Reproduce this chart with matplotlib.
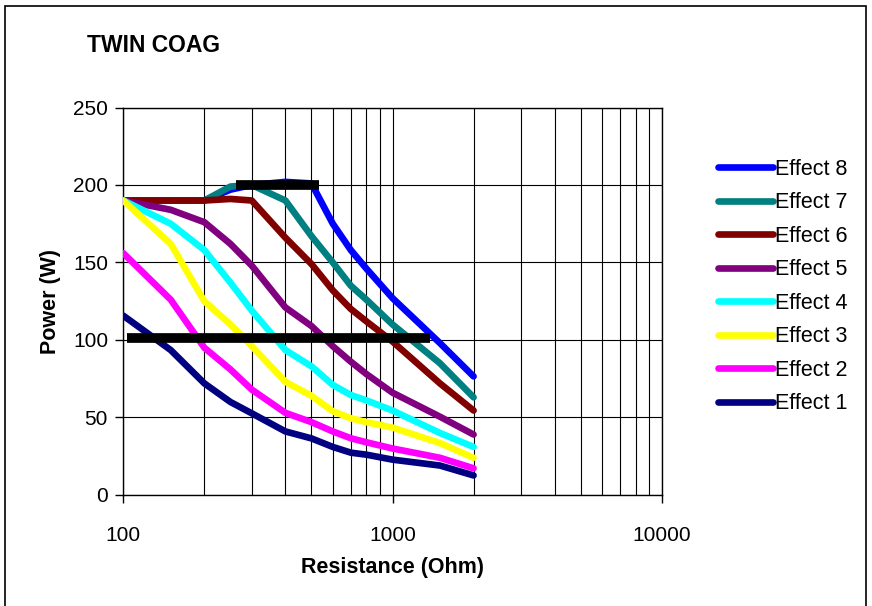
import matplotlib.pyplot as plt
from matplotlib.patches import Rectangle
from matplotlib.ticker import FixedLocator, FixedFormatter, NullFormatter

plt.rcParams['font.family'] = ['Liberation Sans', 'DejaVu Sans']
plt.rcParams['font.size'] = 15

resistance = [100, 150, 200, 250, 300, 400, 500, 600, 700, 800, 1000, 1500, 2000]

# power (W) per effect setting
effect8 = [190, 190, 190, 197, 200, 202, 201, 175, 158, 146, 127, 98, 76.5]
effect7 = [190, 190, 190, 199, 200, 190, 167, 150, 135, 126, 110, 85, 63]
effect6 = [190, 190, 190, 191, 190, 166, 149, 132, 120, 112, 99, 72, 54.5]
effect5 = [190, 184, 176, 162, 148, 121, 109, 96, 86, 78, 66, 50.5, 39]
effect4 = [190, 175, 158, 137, 119, 93.5, 83, 71, 64.5, 61, 54.5, 40, 31]
effect3 = [190, 162, 125, 110, 96, 73, 64, 54, 49.5, 47, 43.5, 33.5, 24]
effect2 = [156, 126, 95, 81, 68, 53, 47, 41, 36.6, 34, 30, 24, 17.2]
effect1 = [115.7, 93.5, 72, 60, 52.7, 41, 36.5, 31, 27.3, 26, 22.8, 19, 12.6]

series = [effect8, effect7, effect6, effect5, effect4, effect3, effect2, effect1]
labels = ["Effect 8", "Effect 7", "Effect 6", "Effect 5",
          "Effect 4", "Effect 3", "Effect 2", "Effect 1"]
colors = ["#0000ff", "#008080", "#800000", "#800080",
          "#00ffff", "#ffff00", "#ff00ff", "#000080"]

# black limit bars
bar_high_x = [262, 531]
bar_high_y = [200, 200]
bar_low_x = [103.5, 1372]
bar_low_y = [101.6, 101.6]

fig = plt.figure(figsize=(8.72, 6.06), dpi=100)
ax = fig.add_axes([0.1414, 0.1832, 0.6175, 0.6394])

lines = []
for vals, lab, col in zip(series, labels, colors):
    ln, = ax.plot(resistance, vals, color=col, lw=4.8, label=lab,
                  solid_capstyle='round', solid_joinstyle='round', zorder=3)
    lines.append(ln)

ax.plot(bar_high_x, bar_high_y, color='k', lw=7, solid_capstyle='butt', zorder=4)
ax.plot(bar_low_x, bar_low_y, color='k', lw=7, solid_capstyle='butt', zorder=4)

ax.set_xscale('log')
ax.set_xlim(100, 10000)
ax.set_ylim(0, 250)
ax.xaxis.set_major_locator(FixedLocator([100, 1000, 10000]))
ax.xaxis.set_major_formatter(FixedFormatter(["100", "1000", "10000"]))
ax.xaxis.set_minor_formatter(NullFormatter())
ax.set_yticks([0, 50, 100, 150, 200, 250])

ax.tick_params(axis='x', which='major', direction='out', length=6, width=1, pad=16.5)
ax.tick_params(axis='x', which='minor', length=0)
ax.tick_params(axis='y', direction='out', length=6, width=1, pad=5)

ax.grid(True, which='both', axis='x', color='k', lw=0.8)
ax.grid(True, which='major', axis='y', color='k', lw=0.8)
ax.set_axisbelow(True)
for sp in ax.spines.values():
    sp.set_linewidth(1)
    sp.set_color('k')

ax.set_xlabel("Resistance (Ohm)", fontweight='bold', fontsize=15.5)
ax.xaxis.set_label_coords(0.5, -0.160)
ax.set_ylabel("Power (W)", fontweight='bold', fontsize=15.5)
ax.yaxis.set_label_coords(-0.116, 0.5)

fig.text(87 / 872, 1 - 45 / 606, "TWIN COAG", fontweight='bold', fontsize=16.5,
         va='center', ha='left')

fig.legend(handles=lines, labels=labels, loc='upper left',
           bbox_to_anchor=(718 / 872, 1 - 159 / 606), frameon=False,
           borderpad=0, borderaxespad=0, handlelength=2.55, handletextpad=0.12,
           labelspacing=0.58, fontsize=15.5)

fig.patches.append(Rectangle((5 / 872, -0.05), 861 / 872, 1.05 - 6 / 606,
                             transform=fig.transFigure, fill=False,
                             edgecolor='k', lw=1.2))

fig.savefig("out.png", dpi=100)
